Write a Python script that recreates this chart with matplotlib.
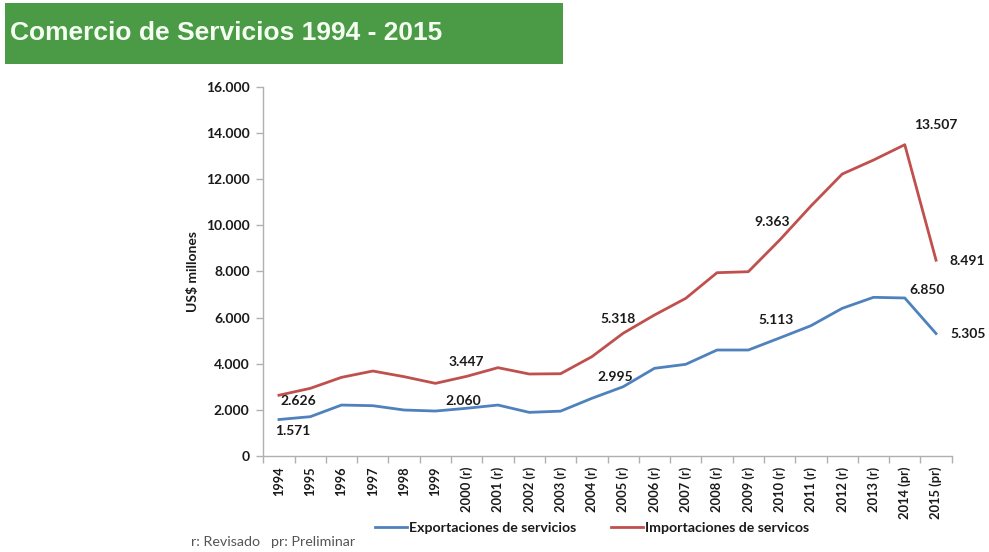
import matplotlib
matplotlib.use("Agg")
import matplotlib.pyplot as plt
from matplotlib.patches import Rectangle
from matplotlib.ticker import FuncFormatter, FixedLocator

# ---------------- data ----------------
years = ['1994', '1995', '1996', '1997', '1998', '1999',
         '2000 (r)', '2001 (r)', '2002 (r)', '2003 (r)', '2004 (r)', '2005 (r)',
         '2006 (r)', '2007 (r)', '2008 (r)', '2009 (r)', '2010 (r)', '2011 (r)',
         '2012 (r)', '2013 (r)', '2014 (pr)', '2015 (pr)']
exportaciones = [1571, 1694, 2200, 2172, 1984, 1940, 2060, 2200, 1882, 1935, 2492,
                 2995, 3795, 3969, 4590, 4590, 5113, 5645, 6400, 6878, 6850, 5305]
importaciones = [2626, 2925, 3403, 3678, 3432, 3142, 3447, 3823, 3548, 3560, 4300,
                 5318, 6110, 6834, 7948, 7991, 9363, 10842, 12232, 12840, 13507, 8491]
label_idx = [0, 6, 11, 16, 20, 21]
series_names = ['Exportaciones de servicios', 'Importaciones de servicos']
title = 'Comercio de Servicios 1994 - 2015'
ylabel = 'US$ millones'
footnote = 'r: Revisado   pr: Preliminar'

# label offsets in pixels (dx, dy up)
exp_off = {0: (14, -11.5), 6: (-3.4, 7), 11: (-8, 10), 16: (-4, 17.6), 20: (22.4, 8.4), 21: (32, -0.7)}
imp_off = {0: (19.7, -6), 6: (0, 14.6), 11: (-5.5, 14.5), 16: (-7.6, 18), 20: (31, 19.3), 21: (31.6, -1)}

BLUE = '#4f81bd'
RED = '#c0504d'
FONT = 'Lato'

W, H = 989, 552
fig = plt.figure(figsize=(W / 100, H / 100), dpi=100)
fig.patch.set_facecolor('white')

# title banner
fig.patches.append(Rectangle((5 / W, 1 - 64 / H), 558 / W, 61 / H,
                             transform=fig.transFigure, facecolor='#4b9a46',
                             edgecolor='none', zorder=0))
fig.text(10 / W, 1 - 33 / H, title, fontsize=19, fontweight='bold',
         family='Liberation Sans', color='#f4fff2', va='center', ha='left')

left, right, top, bottom = 263.3, 951.7, 87.3, 455.7
ax = fig.add_axes([left / W, 1 - bottom / H, (right - left) / W, (bottom - top) / H])

x = list(range(len(years)))
ax.plot(x, exportaciones, color=BLUE, lw=2.0, label=series_names[0], solid_joinstyle='round')
ax.plot(x, importaciones, color=RED, lw=2.0, label=series_names[1], solid_joinstyle='round')

ax.set_xlim(-0.5, len(years) - 0.5)
ax.set_ylim(0, 16000)

for s in ['top', 'right']:
    ax.spines[s].set_visible(False)
for s in ['left', 'bottom']:
    ax.spines[s].set_color('#b0b0b0')
    ax.spines[s].set_linewidth(1.0)

ax.set_yticks(range(0, 16001, 2000))
ax.yaxis.set_major_formatter(FuncFormatter(lambda v, p: f'{int(v):,}'.replace(',', '.')))
ax.tick_params(axis='y', direction='out', length=5, width=1, color='#b0b0b0', pad=4.8,
               labelsize=10)
for lab in ax.get_yticklabels():
    lab.set_fontweight('bold')
    lab.set_family(FONT)
    lab.set_color('#1a1a1a')

ax.xaxis.set_major_locator(FixedLocator([i - 0.5 for i in range(len(years) + 1)]))
ax.xaxis.set_major_formatter(FuncFormatter(lambda v, p: ''))
ax.xaxis.set_minor_locator(FixedLocator(x))
ax.set_xticklabels(years, minor=True, rotation=90, fontsize=9.3, fontweight='bold',
                   family=FONT, color='#1a1a1a')
ax.tick_params(axis='x', which='major', direction='out', length=5, width=1, color='#b0b0b0')
ax.tick_params(axis='x', which='minor', length=0, pad=8)

fig.text(193 / W, 1 - 271 / H, ylabel, rotation=90, ha='center', va='center',
         fontsize=10, fontweight='bold', family=FONT, color='#1a1a1a')

def fmt(v):
    return f'{v:,}'.replace(',', '.')

for i in label_idx:
    dx, dy = exp_off[i]
    ax.annotate(fmt(exportaciones[i]), (x[i], exportaciones[i]), xytext=(dx * 0.72, dy * 0.72),
                textcoords='offset points', ha='center', va='center', fontsize=10,
                fontweight='bold', family=FONT, color='#1a1a1a')
    dx, dy = imp_off[i]
    ax.annotate(fmt(importaciones[i]), (x[i], importaciones[i]), xytext=(dx * 0.72, dy * 0.72),
                textcoords='offset points', ha='center', va='center', fontsize=10,
                fontweight='bold', family=FONT, color='#1a1a1a')

leg = ax.legend(loc='center', bbox_to_anchor=(592 / W, 1 - 528 / H), bbox_transform=fig.transFigure,
                ncol=2, frameon=False, handlelength=2.3, handletextpad=0.15, columnspacing=2.4,
                prop={'family': FONT, 'weight': 'bold', 'size': 10.2})
for t in leg.get_texts():
    t.set_color('#1a1a1a')

fig.text(191 / W, 1 - 542 / H, footnote, ha='left', va='center', fontsize=10.3,
         family=FONT, color='#555555')

fig.savefig('out.png', dpi=100, facecolor='white')
